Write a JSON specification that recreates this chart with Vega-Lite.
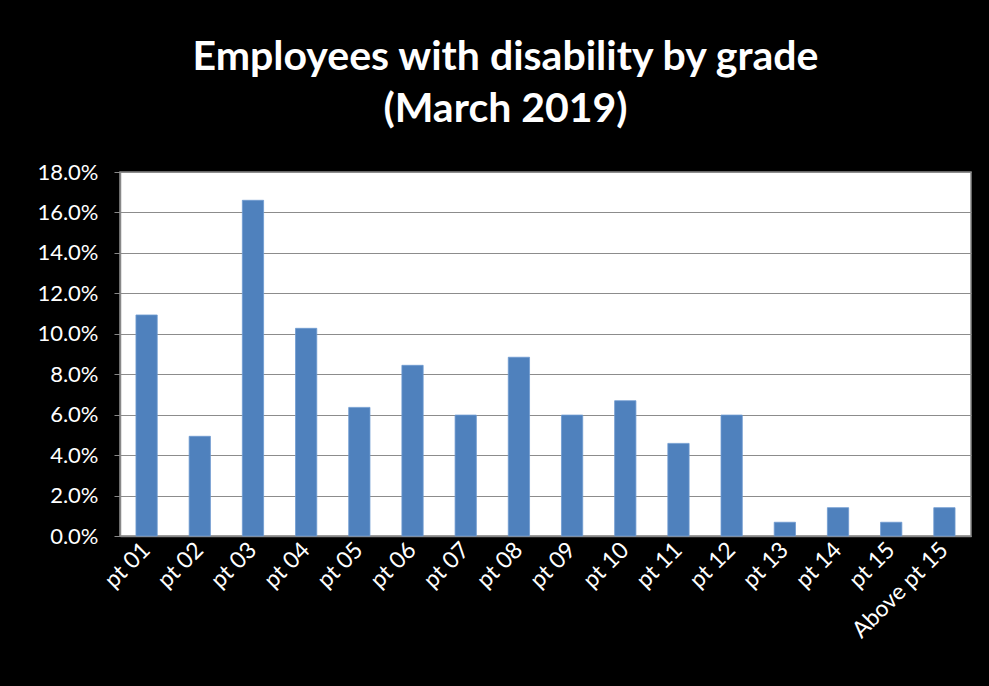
{
  "$schema": "https://vega.github.io/schema/vega-lite/v6.json",
  "width": 851,
  "height": 364,
  "autosize": {"type": "none"},
  "padding": {"left": 120, "top": 172, "right": 18, "bottom": 150},
  "background": "#000000",
  "title": {
    "text": ["Employees with disability by grade", "(March 2019)"],
    "color": "#ffffff",
    "font": "Lato",
    "fontSize": 41,
    "fontWeight": "bold",
    "lineHeight": 52,
    "anchor": "middle",
    "dx": -40,
    "offset": 30
  },
  "data": {
    "values": [
      {"grade": "pt 01", "pct": 0.1093},
      {"grade": "pt 02", "pct": 0.0493},
      {"grade": "pt 03", "pct": 0.166},
      {"grade": "pt 04", "pct": 0.1027},
      {"grade": "pt 05", "pct": 0.0636},
      {"grade": "pt 06", "pct": 0.0844},
      {"grade": "pt 07", "pct": 0.0598},
      {"grade": "pt 08", "pct": 0.0884},
      {"grade": "pt 09", "pct": 0.0598},
      {"grade": "pt 10", "pct": 0.0669},
      {"grade": "pt 11", "pct": 0.0458},
      {"grade": "pt 12", "pct": 0.0598},
      {"grade": "pt 13", "pct": 0.0068},
      {"grade": "pt 14", "pct": 0.014},
      {"grade": "pt 15", "pct": 0.0068},
      {"grade": "Above pt 15", "pct": 0.014}
    ]
  },
  "mark": {"type": "bar", "color": "#4F81BD", "stroke": "#6E9AD0", "strokeWidth": 0.8},
  "encoding": {
    "x": {
      "field": "grade",
      "type": "nominal",
      "sort": null,
      "title": null,
      "scale": {"paddingInner": 0.6, "paddingOuter": 0.3},
      "axis": {
        "labelAngle": -45,
        "labelAlign": "right",
        "labelBaseline": "middle",
        "labelColor": "#ffffff",
        "labelFont": "Lato",
        "labelFontSize": 23,
        "labelPadding": 10,
        "ticks": false,
        "domainColor": "#888888",
        "domainWidth": 1.5
      }
    },
    "y": {
      "field": "pct",
      "type": "quantitative",
      "title": null,
      "scale": {"domain": [0, 0.18], "nice": false},
      "axis": {
        "values": [0, 0.02, 0.04, 0.06, 0.08, 0.10, 0.12, 0.14, 0.16, 0.18],
        "format": ".1%",
        "labelColor": "#ffffff",
        "labelFont": "Lato",
        "labelFontSize": 22,
        "labelPadding": 16,
        "tickSize": 6,
        "tickColor": "#888888",
        "domainColor": "#888888",
        "domainWidth": 1.5,
        "gridColor": "#8c8c8c",
        "gridWidth": 1.2
      }
    }
  },
  "config": {
    "view": {"fill": "#ffffff", "stroke": "#888888", "strokeWidth": 1.5}
  }
}
